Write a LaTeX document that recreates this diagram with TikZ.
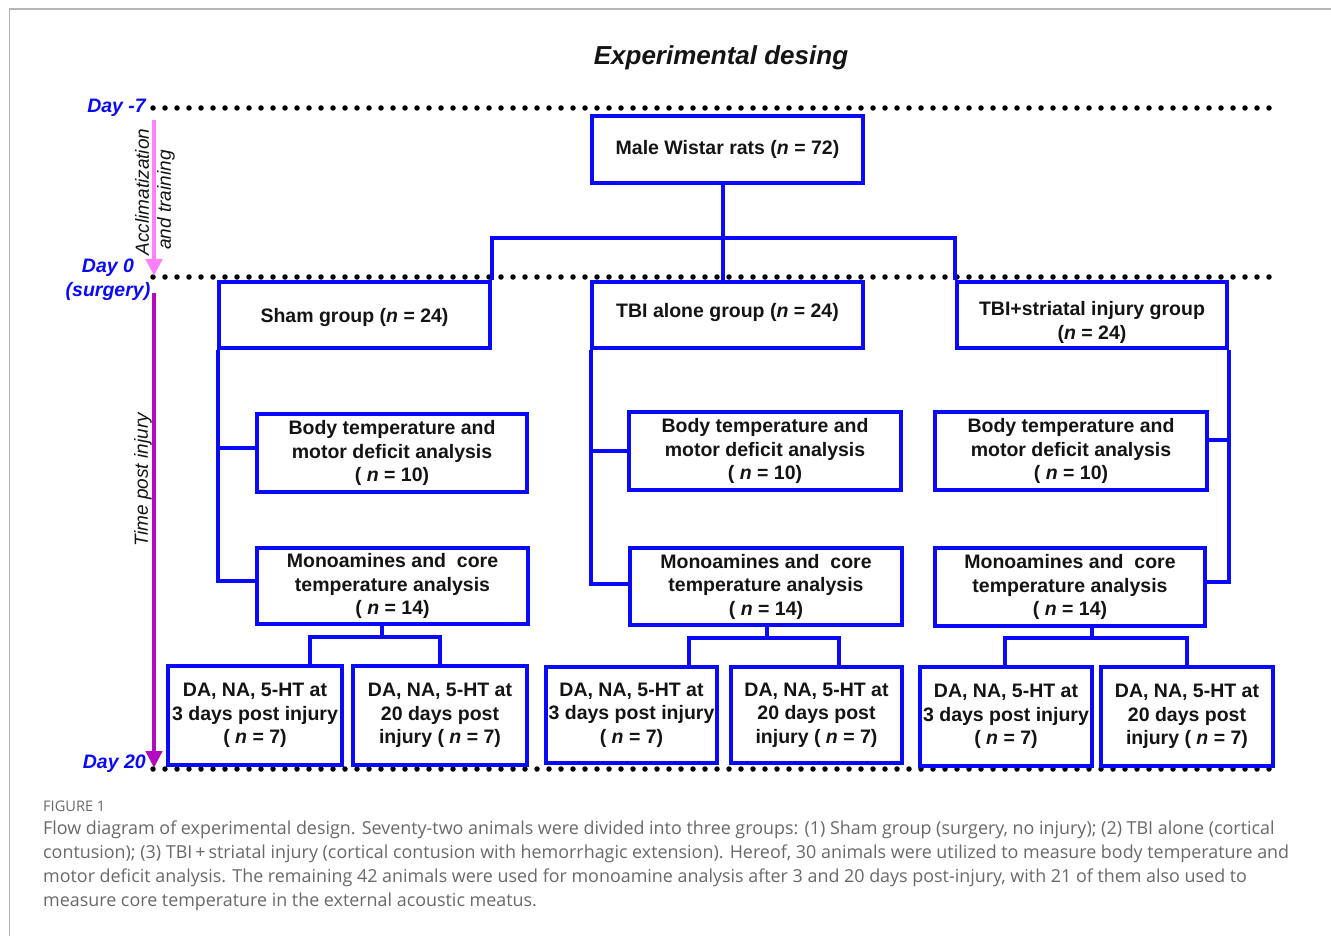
\documentclass[tikz,border=0pt]{standalone}
\usepackage{fontspec}
\setmainfont{Liberation Sans}
\newfontfamily\capfont{Open Sans}
\usetikzlibrary{arrows.meta,calc}
\definecolor{bblue}{RGB}{10,10,250}
\definecolor{pinkarr}{RGB}{255,128,250}
\definecolor{purparr}{RGB}{178,10,190}
\definecolor{capgray}{RGB}{105,105,105}
\definecolor{framegray}{RGB}{180,180,180}
\definecolor{boxtext}{RGB}{20,20,20}
\tikzset{
  box/.style={draw=bblue, line width=4pt, inner sep=0pt, align=center,
    text=boxtext, font=\bfseries\fontsize{19.5}{23.5}\selectfont},
  conn/.style={draw=bblue, line width=4pt, line join=miter},
  dotline/.style={line width=5.5pt, dash pattern=on 0pt off 12pt, line cap=round},
  daylab/.style={text=bblue, font=\bfseries\itshape\fontsize{19.5}{24}\selectfont, inner sep=0pt},
  sidelab/.style={text=boxtext, font=\itshape\fontsize{19}{23}\selectfont, inner sep=0pt, rotate=90},
  capline/.style={anchor=west, inner sep=0pt, text=capgray, font=\capfont\fontsize{17.9}{20}\selectfont}
}
\newcommand{\nn}{\textit{n}}
\begin{document}
\begin{tikzpicture}[x=1pt,y=-1pt]
\useasboundingbox (0,0) rectangle (1331,936);
% frame
\draw[framegray, line width=1.5pt] (9.5,936) -- (9.5,9) -- (1331,9);
% title
\node[inner sep=0pt, font=\bfseries\itshape\fontsize{26}{30}\selectfont, text=boxtext] (title) at (721,58) {Experimental desing};
% time lines
\coordinate (d7a) at (153,108);  \coordinate (d7b) at (1272,108);
\coordinate (d0a) at (153,277);  \coordinate (d0b) at (1272,277);
\coordinate (d20a) at (153,769); \coordinate (d20b) at (1272,769);
\draw[dotline] (d7a) -- (d7b);
\draw[dotline] (d0a) -- (d0b);
\draw[dotline] (d20a) -- (d20b);
\node[daylab, anchor=east] (lday7) at (146,108) {Day -7};
\node[daylab, align=center] (lday0) at (108,280) {Day 0\\(surgery)};
\node[daylab, anchor=east] (lday20) at (146,764) {Day 20};
% arrows
\coordinate (pa1) at (154,120); \coordinate (pa2) at (154,276);
\coordinate (pu1) at (154,293); \coordinate (pu2) at (154,768);
\draw[pinkarr, line width=4.5pt, -{Triangle[width=16pt,length=17pt]}] (pa1) -- (pa2);
\draw[purparr, line width=4.5pt, -{Triangle[width=16pt,length=17pt]}] (pu1) -- (pu2);
\node[sidelab] (acc) at (142,192) {Acclimatization};
\node[sidelab] (trn) at (166,200) {and training};
\node[sidelab] (tpi) at (143,480) {Time post injury};
% top box
\node[box, minimum width=271pt, minimum height=67pt] (male) at (727.5,149.5) {Male Wistar rats (\nn{} = 72)};
% groups
\node[box, minimum width=271pt, minimum height=66pt] (sham) at (354.5,315) {\raisebox{-3pt}[\height][\depth]{Sham group (\nn{} = 24)}};
\node[box, minimum width=271pt, minimum height=66pt] (tbi) at (727.5,315) {\raisebox{2pt}[\height][\depth]{TBI alone group (\nn{} = 24)}};
\node[box, minimum width=270pt, minimum height=66pt] (tbis) at (1092,315) {\raisebox{-8pt}[\height][\depth]{\begin{tabular}{@{}c@{}}TBI+striatal injury group\\(\nn{} = 24)\end{tabular}}};
\coordinate (j) at (723,238);
\draw[conn] (male.south -| j) -- (j);
\draw[conn] (j) -- (tbi.north -| j);
\draw[conn] (sham.north east) -- (sham.north east |- j) -- (tbis.north west |- j) -- (tbis.north west);
% sham branch
\node[box, minimum width=270pt, minimum height=78pt] (sbody) at (392,453) {Body temperature and\\motor deficit analysis\\( \nn{} = 10)};
\node[box, minimum width=271pt, minimum height=76pt] (smono) at (392.5,586) {Monoamines and\ \ core\\temperature analysis\\( \nn{} = 14)};
\draw[conn] ($(sham.south west)+(1,0)$) |- ($(smono.west)+(0,-5)$);
\draw[conn] ($(sbody.west)+(0,-5)$) -- ($(sbody.west)+(-37,-5)$);
\node[box, minimum width=174pt, minimum height=99pt] (sd3) at (255,715.5) {DA, NA, 5-HT at\\3 days post injury\\( \nn{} = 7)};
\node[box, minimum width=174pt, minimum height=99pt] (sd20) at (440,715.5) {DA, NA, 5-HT at\\20 days post\\injury ( \nn{} = 7)};
\coordinate (sb) at (382,637); \coordinate (sbl) at (310,637); \coordinate (sbr) at (440,637);
\draw[conn] (smono.south -| sb) -- (sb);
\draw[conn] (sd3.north -| sbl) -- (sbl) -- (sbr) -- (sd20.north -| sbr);
% tbi alone branch
\node[box, minimum width=272pt, minimum height=78pt] (tbody) at (765,451) {Body temperature and\\motor deficit analysis\\( \nn{} = 10)};
\node[box, minimum width=272pt, minimum height=77pt] (tmono) at (766,586.5) {Monoamines and\ \ core\\temperature analysis\\( \nn{} = 14)};
\draw[conn] ($(tbi.south west)+(1,0)$) |- ($(tmono.west)+(0,-3)$);
\draw[conn] (tbody.west) -- ($(tbody.west)+(-36,0)$);
\node[box, minimum width=171pt, minimum height=96pt] (td3) at (631.5,715) {DA, NA, 5-HT at\\3 days post injury\\( \nn{} = 7)};
\node[box, minimum width=171pt, minimum height=96pt] (td20) at (816.5,715) {DA, NA, 5-HT at\\20 days post\\injury ( \nn{} = 7)};
\coordinate (tb) at (767,638); \coordinate (tbl) at (689,638); \coordinate (tbr) at (839,638);
\draw[conn] (tmono.south -| tb) -- (tb);
\draw[conn] (td3.north -| tbl) -- (tbl) -- (tbr) -- (td20.north -| tbr);
% tbi + striatal branch
\node[box, minimum width=272pt, minimum height=78pt] (xbody) at (1071,451) {Body temperature and\\motor deficit analysis\\( \nn{} = 10)};
\node[box, minimum width=270pt, minimum height=78pt] (xmono) at (1070,587) {Monoamines and\ \ core\\temperature analysis\\( \nn{} = 14)};
\draw[conn] (tbis.south east) |- ($(xmono.east)+(0,-5)$);
\draw[conn] ($(xbody.east)+(0,-11)$) -- ($(xbody.east)+(20,-11)$);
\node[box, minimum width=172pt, minimum height=99pt] (xd3) at (1006,716.5) {DA, NA, 5-HT at\\3 days post injury\\( \nn{} = 7)};
\node[box, minimum width=172pt, minimum height=99pt] (xd20) at (1187,716.5) {DA, NA, 5-HT at\\20 days post\\injury ( \nn{} = 7)};
\coordinate (xb) at (1092,638); \coordinate (xbl) at (1005,638); \coordinate (xbr) at (1187,638);
\draw[conn] (xmono.south -| xb) -- (xb);
\draw[conn] (xd3.north -| xbl) -- (xbl) -- (xbr) -- (xd20.north -| xbr);
% caption
\node[anchor=west, inner sep=0pt, text=capgray, font=\capfont\fontsize{14.6}{16}\selectfont] (fig) at (43,806) {FIGURE 1};
\node[capline] (c1) at (43,830) {Flow diagram of experimental design. Seventy-two animals were divided into three groups: (1) Sham group (surgery, no injury); (2) TBI alone (cortical};
\node[capline] (c2) at (43,854) {contusion); (3) TBI\,+\,striatal injury (cortical contusion with hemorrhagic extension). Hereof, 30 animals were utilized to measure body temperature and};
\node[capline] (c3) at (43,878) {motor deficit analysis. The remaining 42 animals were used for monoamine analysis after 3 and 20 days post-injury, with 21 of them also used to};
\node[capline] (c4) at (43,902) {measure core temperature in the external acoustic meatus.};
\end{tikzpicture}
\end{document}
